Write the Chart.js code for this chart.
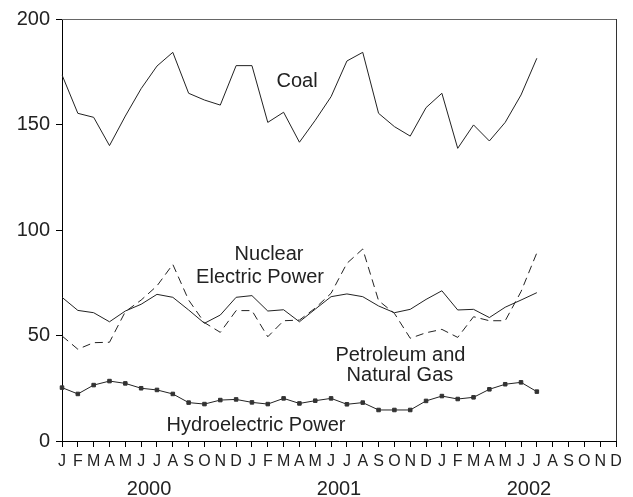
<!DOCTYPE html>
<html>
<head>
<meta charset="utf-8">
<script src="https://cdn.jsdelivr.net/npm/chart.js@4/dist/chart.umd.min.js"></script>
<style>
  html, body { margin: 0; padding: 0; background: #fff; }
  #wrap { width: 633px; height: 497px; }
</style>
</head>
<body>
<div id="wrap"><canvas id="grafico"></canvas></div>
<script>
// ==============================
// DATOS
// ==============================
const meses = ["J", "F", "M", "A", "M", "J", "J", "A", "S", "O", "N", "D"];
const etiquetasMes = [...meses, ...meses, ...meses]; // Ene 2000 - Dic 2002
const anios = ["2000", "2001", "2002"];
const ticksY = [0, 50, 100, 150, 200];

// Ene 2000 - Jul 2002
const carbon = [173.5, 155.3, 153.4, 140, 154, 167, 177.7, 184.2, 164.8, 161.6, 159.2, 177.9,
                177.9, 151, 155.8, 141.6, 152, 163.2, 180.1, 184.2, 155.3, 149, 144.5, 158,
                164.8, 138.7, 149.8, 142.2, 151, 164, 181.4];
const nuclear = [68.1, 61.9, 60.8, 56.5, 61.6, 64.8, 69.5, 68.1, 62.1, 55.8, 59.7, 68.1,
                 68.9, 61.6, 62.2, 56.5, 62.5, 68.4, 69.7, 68.4, 64, 60.8, 62.4, 67.1,
                 71.2, 62.1, 62.4, 58.5, 63.4, 66.8, 70.3];
const petroleo = [49.8, 43.5, 46.6, 46.8, 61.3, 66.8, 73.5, 83.7, 66.8, 56.1, 51.5, 61.8,
                  61.8, 49.4, 57, 57.3, 63, 70, 84.2, 91, 66.5, 60.5, 48.7, 51.3,
                  52.9, 49.1, 58.9, 57, 57, 70.8, 89.2];
const hidro = [25.3, 22.3, 26.5, 28.4, 27.3, 25, 24.2, 22.3, 18.2, 17.5, 19.4, 19.7,
               18.3, 17.5, 20.2, 17.8, 19.1, 20.2, 17.4, 18.2, 14.7, 14.7, 14.7, 19,
               21.3, 19.9, 20.7, 24.5, 26.9, 27.8, 23.4];

// Rótulos dentro del gráfico (posición en coordenadas de datos)
const rotulos = [
  { texto: "Coal", x: 14.85, y: 167.9 },
  { texto: "Nuclear", x: 13.08, y: 85.9 },
  { texto: "Electric Power", x: 12.51, y: 74.9 },
  { texto: "Petroleum and", x: 21.38, y: 37.9 },
  { texto: "Natural Gas", x: 21.35, y: 28.4 },
  { texto: "Hydroelectric Power", x: 12.26, y: 4.7 }
];

const fuente = "'Liberation Sans', Arial, sans-serif";
const tinta = "#222";

// Marco superior y derecho + rótulos
const pluginRotulos = {
  id: "rotulos",
  afterDatasetsDraw(chart) {
    const { ctx, chartArea, scales } = chart;
    ctx.save();
    ctx.lineWidth = 1;
    ctx.strokeStyle = "#666";
    ctx.beginPath();
    ctx.moveTo(chartArea.left, chartArea.top + 0.5);
    ctx.lineTo(chartArea.right, chartArea.top + 0.5);
    ctx.stroke();
    ctx.strokeStyle = "#333";
    ctx.beginPath();
    ctx.moveTo(chartArea.right + 0.5, chartArea.top);
    ctx.lineTo(chartArea.right + 0.5, chartArea.bottom);
    ctx.stroke();

    ctx.fillStyle = tinta;
    ctx.font = "20px " + fuente;
    ctx.textAlign = "center";
    ctx.textBaseline = "alphabetic";
    rotulos.forEach(r => {
      ctx.fillText(r.texto, scales.x.getPixelForValue(r.x), scales.y.getPixelForValue(r.y));
    });
    ctx.restore();
  }
};

const ctx = document.getElementById("grafico").getContext("2d");

new Chart(ctx, {
  type: "line",
  data: {
    labels: etiquetasMes,
    datasets: [
      { label: "Coal", data: carbon, borderColor: tinta, borderWidth: 1, pointRadius: 0, tension: 0 },
      { label: "Nuclear Electric Power", data: nuclear, borderColor: tinta, borderWidth: 1, pointRadius: 0, tension: 0 },
      { label: "Petroleum and Natural Gas", data: petroleo, borderColor: tinta, borderWidth: 1, borderDash: [8, 5], pointRadius: 0, tension: 0 },
      { label: "Hydroelectric Power", data: hidro, borderColor: tinta, borderWidth: 1, pointStyle: "rect",
        pointRadius: 2.5, pointBackgroundColor: "#333", pointBorderColor: "#333", tension: 0 }
    ]
  },
  options: {
    responsive: true,
    maintainAspectRatio: false,
    animation: false,
    events: [],
    layout: { padding: { top: 19, right: 17, left: 0, bottom: 0 } },
    plugins: {
      legend: { display: false },
      tooltip: { enabled: false }
    },
    scales: {
      x: {
        type: "category",
        offset: false,
        grid: { drawOnChartArea: false, drawTicks: true, tickLength: 6, color: "#000" },
        border: { display: true, color: "#000", width: 1 },
        ticks: {
          autoSkip: false, maxRotation: 0, padding: 5,
          color: tinta, font: { family: fuente, size: 16 }
        },
        afterFit(scale) { scale.height = 28; }
      },
      x2: {
        type: "linear",
        position: "bottom",
        min: 0,
        max: 35,
        grid: { display: false },
        border: { display: false },
        afterBuildTicks(scale) {
          scale.ticks = anios.map((a, i) => ({ value: i * 12 + 5.5 }));
        },
        ticks: {
          padding: 0,
          color: tinta,
          font: { family: fuente, size: 20 },
          callback: v => anios[Math.round((v - 5.5) / 12)]
        },
        afterFit(scale) { scale.height = 28; }
      },
      y: {
        min: 0,
        max: 200,
        afterBuildTicks(scale) {
          scale.ticks = ticksY.map(v => ({ value: v }));
        },
        grid: { drawOnChartArea: false, drawTicks: true, tickLength: 6, color: "#000" },
        border: { display: true, color: "#000", width: 1 },
        ticks: { padding: 6, color: tinta, font: { family: fuente, size: 20 } },
        afterFit(scale) { scale.width = 62; }
      }
    }
  },
  plugins: [pluginRotulos]
});
</script>
</body>
</html>
